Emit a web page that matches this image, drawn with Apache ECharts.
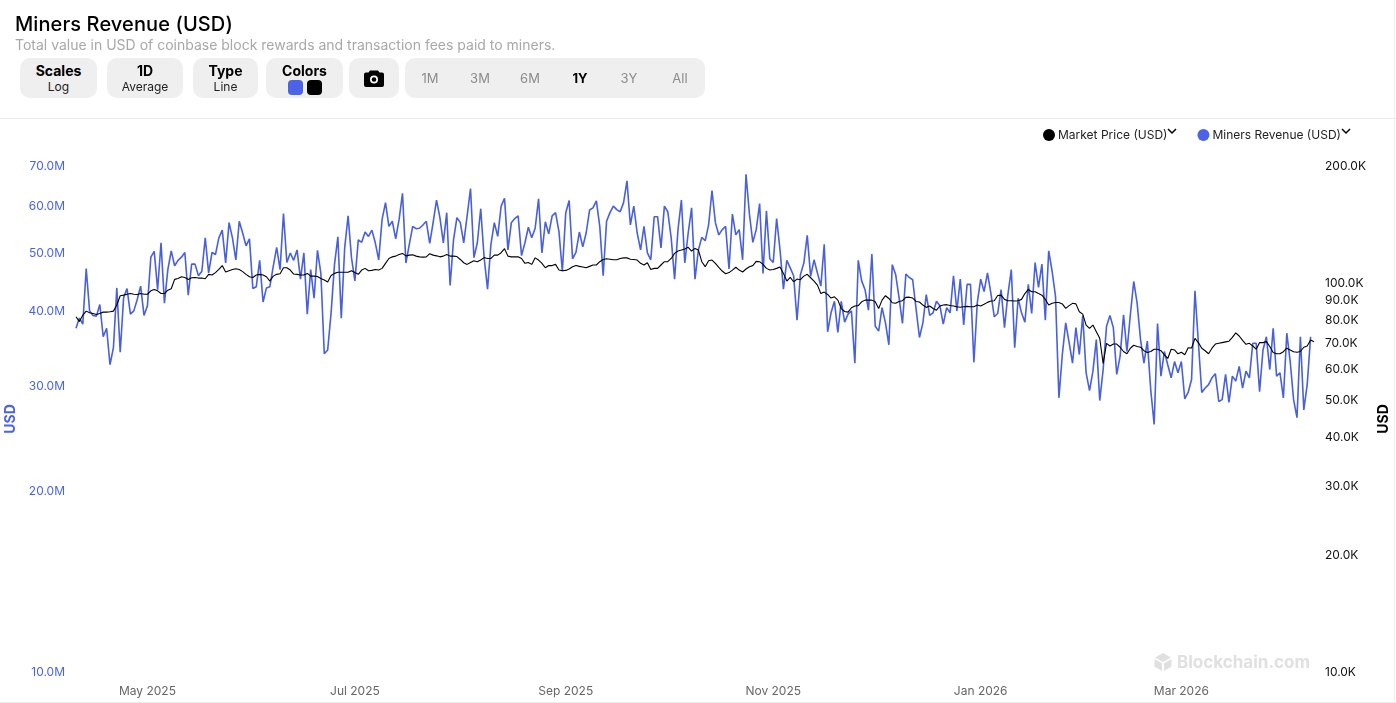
<!DOCTYPE html>
<html>
<head>
<meta charset="utf-8">
<title>Miners Revenue (USD)</title>
<script src="https://cdn.jsdelivr.net/npm/echarts@6/dist/echarts.min.js"></script>
<style>
  html, body { margin: 0; padding: 0; background: #fff; font-family: Inter, sans-serif; }
  #page { position: relative; width: 1396px; height: 703px; overflow: hidden; }
  #chart { position: absolute; left: 0; top: 0; width: 1396px; height: 703px; }
  .abs { position: absolute; }
  h1 { position: absolute; left: 15px; top: 12px; margin: 0; font-size: 20px; line-height: 24px; font-weight: 500; color: #000; letter-spacing: .1px; }
  .sub { left: 15px; top: 37px; font-size: 14px; line-height: 16px; color: #a8a8a8; }
  .btn { top: 58px; height: 40px; background: #efefef; border-radius: 10px; text-align: center; }
  .btn b { display: block; margin-top: 5px; font-size: 14px; line-height: 15px; font-weight: 700; color: #000; }
  .btn span { display: block; font-size: 12px; line-height: 17px; color: #222; }
  .sw { display: inline-block; width: 15px; height: 15px; border-radius: 4px; margin: 2px 2px 0; }
  .rng { top: 78px; transform: translateY(-50%); font-size: 13px; color: #8c8c8c; width: 40px; text-align: center; }
  .line { left: 0; top: 118px; width: 1396px; height: 1px; background: #ececec; }
  .mark { left: 1177px; top: 652px; font-size: 17px; line-height: 20px; font-weight: 700; color: #e0e0e0; }
</style>
</head>
<body>
<div id="page">
  <div id="chart"></div>
  <h1>Miners Revenue (USD)</h1>
  <div class="abs sub">Total value in USD of coinbase block rewards and transaction fees paid to miners.</div>
  <div class="abs btn" style="left:20px;width:77px"><b>Scales</b><span>Log</span></div>
  <div class="abs btn" style="left:107px;width:76px"><b>1D</b><span>Average</span></div>
  <div class="abs btn" style="left:193px;width:65px"><b>Type</b><span>Line</span></div>
  <div class="abs btn" style="left:266px;width:77px"><b>Colors</b><i class="sw" style="background:#4a63e7"></i><i class="sw" style="background:#000"></i></div>
  <div class="abs btn" style="left:349px;width:50px">
    <svg style="margin-top:11px" width="20" height="18" viewBox="0 0 20 18"><path fill="#000" d="M6 1.5h8l1.5 2H18a2 2 0 0 1 2 2V16a2 2 0 0 1-2 2H2a2 2 0 0 1-2-2V5.500a2 2 0 0 1 2-2h2.500z"/><circle cx="10" cy="10.500" r="4" fill="#fff"/><circle cx="10" cy="10.500" r="2.300" fill="#000"/></svg>
  </div>
  <div class="abs btn" style="left:405px;width:300px"></div>
  <div class="abs rng" style="left:410px">1M</div>
  <div class="abs rng" style="left:460px">3M</div>
  <div class="abs rng" style="left:510px">6M</div>
  <div class="abs rng" style="left:560px;color:#000;font-weight:700">1Y</div>
  <div class="abs rng" style="left:609px">3Y</div>
  <div class="abs rng" style="left:660px">All</div>
  <div class="abs line"></div>
  <div class="abs" style="right:1px;top:0;width:1px;height:703px;background:#f0f0f0"></div>
  <div class="abs" style="left:0;bottom:0;width:1396px;height:1px;background:#ececec"></div>
  <svg class="abs" style="left:1167px;top:128px" width="10" height="7" viewBox="0 0 10 7"><path d="M1 1l4 4 4-4" fill="none" stroke="#000" stroke-width="1.500"/></svg>
  <svg class="abs" style="left:1341px;top:128px" width="10" height="7" viewBox="0 0 10 7"><path d="M1 1l4 4 4-4" fill="none" stroke="#000" stroke-width="1.500"/></svg>
  <svg class="abs" style="left:1154px;top:653px" width="18" height="18" viewBox="0 0 18 18"><path fill="#e0e0e0" d="M9 0l8 4.500-8 4.500-8-4.500zM.500 6l7.500 4.200V18L.500 13.500zM17.500 6L10 10.200V18l7.500-4.500z"/></svg>
  <div class="abs mark">Blockchain.com</div>
</div>
<script>
const startDay = Date.UTC(2025, 3, 10);
const dayMs = 86400000;

// daily values, millions of USD
const minersRevenue = [
  37.5, 39.0, 38.1, 47.2, 40.1, 39.4, 39.3, 41.1, 36.3, 37.5, 32.6, 34.8, 43.8, 34.2, 42.2,
  43.7, 39.6, 40.1, 41.9, 44.1, 39.4, 40.9, 49.3, 50.4, 43.5, 52.1, 41.3, 47.0, 50.5, 47.7,
  48.7, 49.3, 50.2, 42.6, 48.0, 48.0, 45.9, 46.7, 53.1, 46.4, 50.2, 49.8, 53.1, 54.7, 48.2,
  56.3, 53.1, 48.8, 56.6, 54.1, 51.5, 52.9, 43.7, 44.0, 48.7, 41.5, 43.8, 44.0, 47.6, 51.2,
  47.0, 58.3, 48.3, 50.1, 48.7, 50.7, 45.3, 50.1, 39.6, 47.0, 42.1, 50.6, 46.3, 34.0, 34.5,
  39.8, 47.9, 53.3, 39.0, 51.1, 57.8, 49.2, 45.0, 52.7, 52.2, 54.3, 53.4, 54.7, 52.1, 48.8,
  57.0, 60.8, 55.5, 56.6, 52.9, 57.0, 63.0, 48.2, 51.8, 55.5, 55.0, 55.1, 55.8, 56.6, 52.0,
  56.3, 61.4, 57.4, 52.1, 58.5, 44.2, 52.7, 57.4, 56.3, 52.1, 57.8, 64.2, 49.2, 52.1, 59.4,
  49.2, 43.6, 51.8, 56.3, 53.4, 60.0, 61.8, 50.7, 56.3, 57.2, 57.8, 49.6, 52.1, 55.3, 53.1,
  55.1, 61.7, 50.1, 56.5, 53.9, 57.8, 58.5, 54.4, 46.7, 58.5, 61.3, 49.0, 50.2, 54.3, 51.3,
  54.1, 59.1, 59.6, 61.2, 55.5, 45.9, 56.6, 58.5, 60.0, 59.2, 58.7, 60.8, 66.1, 55.8, 60.0,
  54.1, 50.7, 55.5, 50.1, 48.8, 57.6, 57.6, 51.1, 60.0, 58.7, 53.1, 45.3, 54.8, 61.4, 48.2,
  54.1, 59.6, 45.3, 50.7, 53.2, 52.5, 55.8, 63.7, 56.3, 53.7, 54.8, 55.5, 47.1, 58.2, 53.7,
  54.8, 48.8, 67.8, 58.2, 52.2, 54.8, 60.6, 46.3, 58.9, 49.0, 48.3, 57.2, 50.7, 43.6, 48.7,
  47.3, 45.9, 38.7, 46.1, 48.2, 53.6, 45.8, 48.8, 46.4, 44.1, 51.8, 37.0, 39.8, 41.6, 36.9,
  41.6, 38.4, 39.6, 40.1, 32.8, 48.7, 45.0, 43.5, 40.2, 49.9, 37.8, 37.1, 40.6, 38.3, 35.2,
  47.9, 46.1, 42.2, 38.2, 46.2, 45.6, 45.2, 40.4, 36.2, 38.3, 42.7, 39.4, 39.8, 41.6, 40.9,
  38.1, 40.6, 39.8, 45.9, 40.1, 45.3, 38.0, 44.4, 44.4, 32.9, 41.4, 45.3, 43.2, 46.4, 42.9,
  39.2, 39.7, 43.5, 37.6, 42.7, 47.0, 34.8, 42.1, 39.8, 38.4, 44.4, 39.7, 48.3, 43.9, 48.0,
  38.7, 50.5, 46.7, 42.4, 28.7, 33.9, 38.3, 35.5, 32.8, 37.6, 33.9, 39.4, 31.6, 29.5, 31.8,
  35.9, 28.4, 32.0, 37.8, 39.4, 37.6, 31.4, 33.7, 39.5, 34.3, 39.5, 44.9, 41.3, 35.9, 32.8,
  35.7, 29.6, 25.9, 38.2, 31.2, 34.3, 32.6, 31.0, 33.0, 31.6, 33.0, 28.6, 29.3, 30.8, 43.3,
  35.5, 29.3, 29.8, 30.2, 31.0, 31.5, 28.3, 28.5, 31.4, 28.2, 31.2, 30.6, 32.4, 29.8, 31.8,
  31.0, 35.4, 35.4, 29.4, 34.5, 36.3, 32.0, 37.5, 31.2, 31.6, 28.7, 36.8, 33.0, 28.5, 26.6,
  36.3, 27.4, 30.2, 36.3
];

// daily values, thousands of USD
const marketPrice = [
  81.9, 79.6, 82.7, 84.7, 83.9, 83.5, 83.0, 83.5, 84.2, 84.2, 84.4, 84.7, 87.8, 92.8, 93.1,
  93.6, 94.0, 93.6, 93.5, 94.0, 93.6, 93.6, 95.5, 96.3, 95.5, 94.0, 94.0, 95.9, 96.7, 102.2,
  102.8, 103.8, 103.4, 102.2, 103.2, 103.4, 103.0, 103.0, 102.6, 105.3, 104.9, 106.4, 108.4, 110.9, 106.8,
  107.6, 108.4, 108.9, 108.4, 107.0, 105.3, 103.8, 103.4, 104.9, 105.3, 104.9, 103.8, 101.2, 104.2, 105.3,
  105.7, 109.5, 109.5, 108.0, 105.5, 105.3, 104.9, 104.9, 105.9, 104.2, 104.2, 104.0, 102.8, 101.8, 100.6,
  104.6, 105.9, 106.6, 106.6, 106.6, 106.6, 107.6, 106.4, 105.3, 108.0, 109.1, 107.6, 107.8, 108.4, 108.0,
  109.1, 112.4, 115.7, 116.8, 117.3, 118.5, 119.2, 117.5, 118.0, 118.2, 117.3, 116.8, 116.6, 116.8, 119.0,
  118.0, 117.5, 116.8, 117.3, 118.5, 117.3, 117.3, 117.0, 115.0, 112.8, 111.7, 113.0, 114.1, 113.5, 114.6,
  116.3, 115.7, 115.7, 118.0, 118.0, 119.7, 122.6, 117.3, 116.8, 116.8, 116.8, 115.7, 112.4, 113.0, 111.7,
  116.1, 114.6, 112.4, 109.5, 111.0, 110.9, 111.7, 108.0, 107.6, 107.8, 108.7, 110.2, 111.0, 110.4, 110.0,
  109.5, 110.4, 111.3, 111.3, 113.5, 115.0, 115.5, 115.2, 114.8, 114.8, 115.7, 116.1, 116.1, 115.2, 115.0,
  114.6, 112.4, 111.3, 112.8, 108.4, 109.1, 109.1, 111.3, 113.5, 113.5, 115.7, 119.2, 120.9, 121.6, 122.4,
  123.6, 120.9, 122.8, 121.6, 113.5, 110.2, 114.1, 114.6, 112.4, 109.8, 107.4, 105.7, 106.4, 108.0, 109.8,
  108.0, 106.8, 108.7, 110.2, 110.9, 113.7, 113.5, 111.7, 109.1, 108.0, 108.4, 109.1, 110.0, 105.9, 101.2,
  103.4, 100.8, 102.4, 102.0, 104.2, 105.3, 103.2, 101.2, 98.8, 94.0, 94.8, 93.5, 91.5, 92.2, 90.4,
  86.0, 84.5, 84.2, 86.4, 87.3, 87.5, 89.5, 90.4, 90.4, 90.4, 89.5, 86.0, 90.4, 92.8, 91.3,
  89.0, 88.7, 89.7, 90.1, 91.9, 92.0, 91.5, 89.7, 89.4, 87.8, 86.6, 87.3, 86.0, 85.2, 87.3,
  87.8, 88.0, 87.6, 87.3, 86.9, 86.7, 86.9, 87.1, 86.9, 86.9, 87.8, 87.3, 88.2, 89.2, 89.9,
  90.1, 92.9, 93.1, 90.8, 90.1, 90.1, 89.9, 90.1, 90.8, 94.0, 96.3, 95.0, 95.0, 94.0, 93.1,
  90.8, 87.8, 88.7, 89.1, 89.1, 88.4, 86.1, 87.5, 88.7, 88.4, 84.4, 83.2, 78.0, 76.5, 78.0,
  75.0, 72.1, 62.1, 70.0, 68.9, 69.7, 69.7, 68.4, 66.7, 65.8, 68.0, 69.2, 68.7, 68.4, 67.0,
  66.3, 66.7, 67.6, 67.6, 67.0, 65.4, 64.0, 67.6, 67.3, 65.8, 66.4, 65.4, 68.2, 68.1, 72.1,
  70.3, 68.0, 67.0, 65.8, 68.0, 69.7, 70.0, 70.3, 70.6, 70.9, 72.5, 74.5, 73.1, 71.2, 69.6,
  70.0, 68.9, 67.6, 70.3, 70.3, 70.7, 68.7, 66.3, 65.8, 65.8, 66.6, 68.0, 67.3, 66.6, 66.4,
  66.7, 68.4, 68.9, 71.4, 70.7
];

const revenueTicks = [10, 20, 30, 40, 50, 60, 70];
const priceTicks = [10, 20, 30, 40, 50, 60, 70, 80, 90, 100, 200];
const monthLabels = {
  "2025-05-01": "May 2025",
  "2025-07-01": "Jul 2025",
  "2025-09-01": "Sep 2025",
  "2025-11-01": "Nov 2025",
  "2026-01-01": "Jan 2026",
  "2026-03-01": "Mar 2026"
};

const blue = "#4a63e7";
const fontName = "Inter";

// one category per day, as long as the longer series
const days = marketPrice.map((_, i) =>
  new Date(startDay + i * dayMs).toISOString().slice(0, 10)
);

const chart = echarts.init(document.getElementById("chart"), null, { renderer: "canvas" });
chart.setOption({
  animation: false,
  backgroundColor: "#fff",
  textStyle: { fontFamily: fontName },
  legend: {
    left: 1038,
    top: 124,
    itemWidth: 12,
    itemHeight: 12,
    itemGap: 30,
    icon: "circle",
    data: ["Market Price (USD)", "Miners Revenue (USD)"],
    textStyle: { fontFamily: fontName, fontSize: 12, color: "#222", padding: [0, 0, 0, -2] }
  },
  grid: { left: 76, right: 82, top: 166, bottom: 31, outerBoundsMode: "none" },
  xAxis: {
    type: "category",
    boundaryGap: false,
    data: days,
    axisLine: { show: false },
    axisTick: { show: false },
    splitLine: { show: false },
    axisLabel: {
      interval: (i, v) => v in monthLabels,
      hideOverlap: false,
      margin: 13,
      fontSize: 12,
      color: "#666",
      formatter: (v) => monthLabels[v] || ""
    }
  },
  yAxis: [
    {
      type: "log",
      position: "left",
      min: 10,
      max: 70,
      name: "USD",
      nameLocation: "middle",
      nameGap: 53,
      nameTextStyle: { color: blue, fontWeight: 700, fontSize: 14, fontFamily: fontName },
      axisLine: { show: false },
      axisTick: { show: false },
      splitLine: { show: false },
      axisLabel: {
        customValues: revenueTicks,
        margin: 11,
        fontSize: 12,
        color: blue,
        formatter: (v) => v.toFixed(1) + "M"
      }
    },
    {
      type: "log",
      position: "right",
      min: 10,
      max: 200,
      name: "USD",
      nameLocation: "middle",
      nameGap: 56,
      nameTextStyle: { color: "#000", fontWeight: 700, fontSize: 14, fontFamily: fontName },
      axisLine: { show: false },
      axisTick: { show: false },
      splitLine: { show: false },
      axisLabel: {
        customValues: priceTicks,
        margin: 11,
        fontSize: 12,
        color: "#111",
        formatter: (v) => v.toFixed(1) + "K"
      }
    }
  ],
  series: [
    {
      name: "Miners Revenue (USD)",
      type: "line",
      yAxisIndex: 0,
      showSymbol: false,
      symbol: "circle",
      lineStyle: { width: 1.6, color: "#4860dc" },
      itemStyle: { color: blue },
      z: 2,
      data: minersRevenue
    },
    {
      name: "Market Price (USD)",
      type: "line",
      yAxisIndex: 1,
      showSymbol: false,
      symbol: "circle",
      lineStyle: { width: 1.1, color: "#000" },
      itemStyle: { color: "#000" },
      z: 3,
      data: marketPrice
    }
  ]
});
</script>
</body>
</html>
